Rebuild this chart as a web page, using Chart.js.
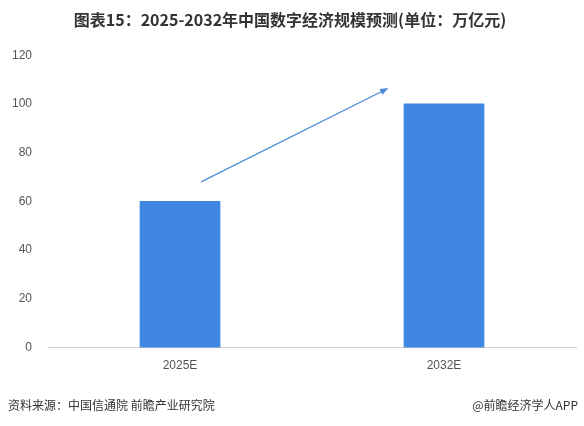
<!DOCTYPE html>
<html>
<head>
<meta charset="utf-8">
<script src="https://cdn.jsdelivr.net/npm/chart.js@4/dist/chart.umd.min.js"></script>
<style>
body { margin: 0; background: #fff; font-family: "Noto Sans CJK SC", "Noto Sans", sans-serif; }
#wrap { position: relative; width: 584px; height: 426px; }
.foot { position: absolute; top: 396px; font-size: 12px; color: #333; }
</style>
</head>
<body>
<div id="wrap">
  <canvas id="chart" width="584" height="426"></canvas>
  <div class="foot" style="left:8px;">资料来源：中国信通院 前瞻产业研究院</div>
  <div class="foot" style="right:6px;">@前瞻经济学人APP</div>
</div>
<script>
// Données du graphique
const categories = ['2025E', '2032E'];
const values = [60, 100];
const yTicks = [0, 20, 40, 60, 80, 100, 120];
// Flèche de tendance (position en unités des axes)
const arrowFrom = [0.08, 68];
const arrowTo = [0.79, 106.5];

const arrowPlugin = {
    id: 'arrow',
    afterDatasetsDraw(chart) {
        const { ctx, scales: { x, y } } = chart;
        const step = x.getPixelForValue(1) - x.getPixelForValue(0);
        const x1 = x.getPixelForValue(0) + arrowFrom[0] * step, y1 = y.getPixelForValue(arrowFrom[1]);
        const x2 = x.getPixelForValue(0) + arrowTo[0] * step, y2 = y.getPixelForValue(arrowTo[1]);
        const a = Math.atan2(y2 - y1, x2 - x1);
        ctx.save();
        ctx.strokeStyle = '#4a8ad8';
        ctx.fillStyle = '#4a8ad8';
        ctx.lineWidth = 1.2;
        ctx.beginPath();
        ctx.moveTo(x1, y1);
        ctx.lineTo(x2 - 6 * Math.cos(a), y2 - 6 * Math.sin(a));
        ctx.stroke();
        ctx.beginPath();
        ctx.moveTo(x2, y2);
        ctx.lineTo(x2 - 9 * Math.cos(a - 0.35), y2 - 9 * Math.sin(a - 0.35));
        ctx.lineTo(x2 - 9 * Math.cos(a + 0.35), y2 - 9 * Math.sin(a + 0.35));
        ctx.closePath();
        ctx.fill();
        ctx.restore();
    }
};

new Chart(document.getElementById('chart').getContext('2d'), {
    type: 'bar',
    data: {
        labels: categories,
        datasets: [{
            data: values,
            backgroundColor: '#3f87e3',
            barThickness: 80
        }]
    },
    options: {
        responsive: false,
        animation: false,
        layout: { padding: { left: 4, right: 8, top: 6, bottom: 50 } },
        plugins: {
            legend: { display: false },
            tooltip: { enabled: false },
            title: {
                display: true,
                text: '图表15：2025-2032年中国数字经济规模预测(单位：万亿元)',
                color: '#333',
                font: { size: 16, weight: 'bold', family: '"Noto Sans CJK SC", sans-serif' },
                padding: { top: 4, bottom: 26 }
            }
        },
        scales: {
            x: {
                grid: { display: false },
                border: { color: '#ccc' },
                ticks: { color: '#555', font: { size: 12 } }
            },
            y: {
                min: 0,
                max: 120,
                afterBuildTicks(axis) { axis.ticks = yTicks.map(v => ({ value: v })); },
                grid: { display: false },
                border: { display: false },
                ticks: { color: '#555', font: { size: 12 }, padding: 8 }
            }
        }
    },
    plugins: [arrowPlugin]
});
</script>
</body>
</html>
